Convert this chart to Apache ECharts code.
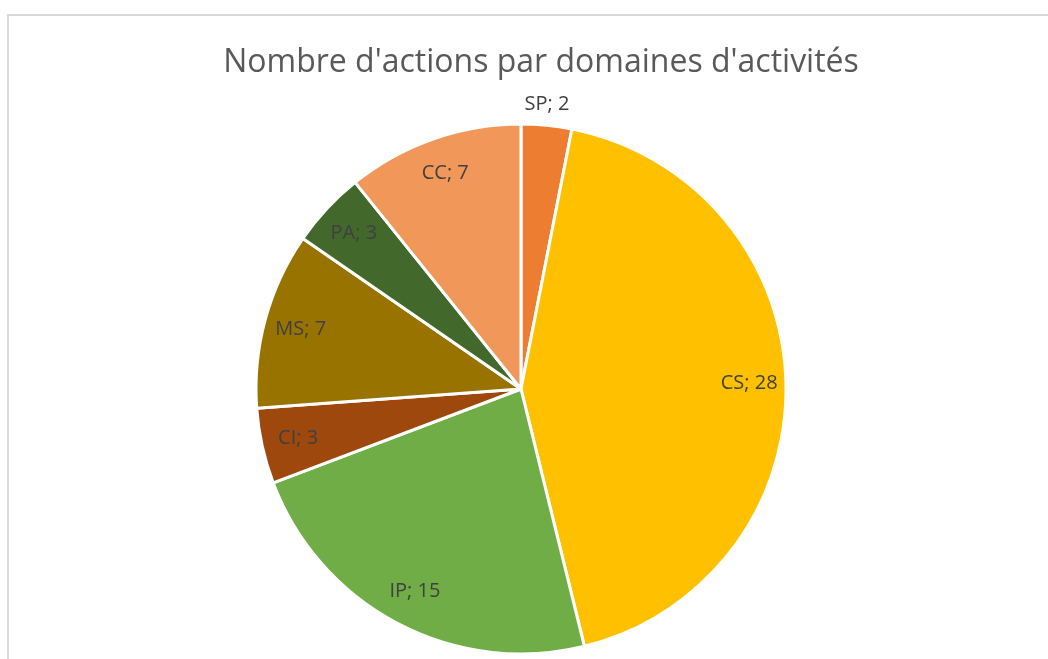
<!DOCTYPE html>
<html>
<head>
<meta charset="utf-8">
<script src="https://cdn.jsdelivr.net/npm/echarts@6/dist/echarts.min.js"></script>
<style>
  html, body { margin: 0; padding: 0; background: #fff; }
  #main { width: 1048px; height: 659px; }
</style>
</head>
<body>
<div id="main"></div>
<script>
// domaines d'activités, dans l'ordre horaire depuis le haut
var domaines = ['SP', 'CS', 'IP', 'CI', 'MS', 'PA', 'CC'];
var nbActions = [2, 28, 15, 3, 7, 3, 7];
var couleurs = ['#ED7D31', '#FFC000', '#70AD47', '#9E480E', '#997300', '#43682B', '#F1975A'];

var myChart = echarts.init(document.getElementById('main'), null, { renderer: 'canvas' });

var R = 265;
var centre = [521, 389];

var data = domaines.map(function (d, i) {
    return { name: d, value: nbActions[i], itemStyle: { color: couleurs[i] } };
});

// série invisible, uniquement pour placer les étiquettes près du bord
var etiquettes = domaines.map(function (d, i) {
    var item = { name: d, value: nbActions[i] };
    if (d === 'SP') {
        item.label = { offset: [4, -58] };
    }
    return item;
});

var option = {
    backgroundColor: '#fff',
    animation: false,
    title: {
        text: "Nombre d'actions par domaines d'activités",
        left: 536,
        top: 42,
        textAlign: 'center',
        textStyle: {
            fontFamily: 'Open Sans',
            fontSize: 32,
            fontWeight: 'normal',
            color: '#595959'
        }
    },
    graphic: [{
        type: 'rect',
        shape: { x: 8, y: 15, width: 1100, height: 700 },
        style: { fill: 'none', stroke: '#d9d9d9', lineWidth: 2 },
        silent: true
    }],
    series: [
        {
            type: 'pie',
            name: 'actions',
            center: centre,
            radius: [0, R],
            startAngle: 90,
            clockwise: true,
            silent: true,
            itemStyle: { borderColor: '#fff', borderWidth: 3 },
            label: { show: false },
            labelLine: { show: false },
            data: data
        },
        {
            type: 'pie',
            name: 'labels',
            center: centre,
            radius: [R * 0.7, R],
            startAngle: 90,
            clockwise: true,
            silent: true,
            itemStyle: { color: 'rgba(0,0,0,0)' },
            label: {
                show: true,
                position: 'inside',
                formatter: '{b}; {c}',
                fontFamily: 'Open Sans',
                fontSize: 20,
                color: '#404040'
            },
            labelLine: { show: false },
            data: etiquettes
        }
    ]
};

myChart.setOption(option);
</script>
</body>
</html>
